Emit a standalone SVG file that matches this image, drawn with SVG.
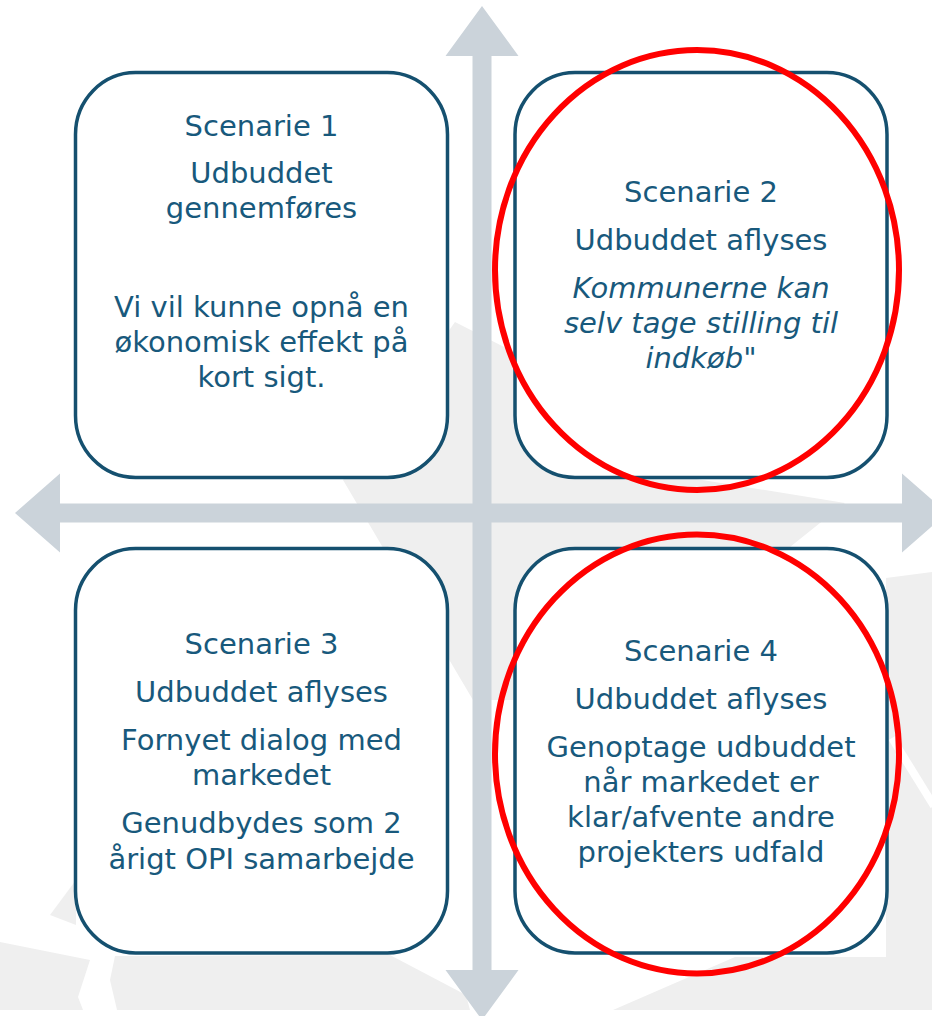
<svg xmlns="http://www.w3.org/2000/svg" width="932" height="1016" viewBox="0 0 932 1016">
<style>
.wm{fill:#EFEFEF;stroke:none}
.axis{fill:#CBD3DA;stroke:none}
.box{fill:#FFFFFF;stroke:#15506F;stroke-width:3.5}
.t{font-family:"DejaVu Sans","Verdana",sans-serif;font-size:29px;fill:#18597C;text-anchor:middle}
.i{font-style:italic}
.ring{fill:none;stroke:#FF0000;stroke-width:6}
</style>
<rect x="0" y="0" width="932" height="1016" fill="#FFFFFF"/>
<g id="watermark">
<polygon class="wm" points="455,322 520,355 690,478 845,503 790,547 540,560 520,700 473,700 343,480"/>
<polygon class="wm" points="50,915 76,880 76,925"/>
<polygon class="wm" points="0,942 90,960 78,997 83,1010 0,1010"/>
<polygon class="wm" points="115,956 390,955 466,995 470,1010 117,1010 110,980"/>
<polygon class="wm" points="886,578 932,572 932,1010 613,1010 735,957 886,957"/>
<line x1="892" y1="738" x2="934" y2="806" stroke="#FFFFFF" stroke-width="8"/>
</g>
<g id="connectors">
<path class="axis" d="M482,6 L518.5,56 L491.5,56 L491.5,970 L518.5,970 L482,1020 L445.5,970 L472.5,970 L472.5,56 L445.5,56 Z"/>
<path class="axis" d="M15,513 L60,473.5 L60,503.5 L902,503.5 L902,473.5 L947,513 L902,552.5 L902,522.5 L60,522.5 L60,552.5 Z"/>
</g>
<g id="scenarie1">
<rect class="box" x="75.5" y="72.5" width="372" height="405" rx="60" ry="62"/>
<text class="t" x="261.5" y="136">Scenarie 1</text>
<text class="t" x="261.5" y="183">Udbuddet</text>
<text class="t" x="261.5" y="218">gennemføres</text>
<text class="t" x="261.5" y="317">Vi vil kunne opnå en</text>
<text class="t" x="261.5" y="352">økonomisk effekt på</text>
<text class="t" x="261.5" y="387">kort sigt.</text>
</g>
<g id="scenarie2">
<rect class="box" x="515" y="72.5" width="372" height="405" rx="60" ry="62"/>
<text class="t" x="701" y="202">Scenarie 2</text>
<text class="t" x="701" y="250">Udbuddet aflyses</text>
<text class="t i" x="701" y="298">Kommunerne kan</text>
<text class="t i" x="701" y="333">selv tage stilling til</text>
<text class="t i" x="701" y="368">indkøb"</text>
</g>
<g id="scenarie3">
<rect class="box" x="75.5" y="548.5" width="372" height="404.5" rx="60" ry="62"/>
<text class="t" x="261.5" y="654">Scenarie 3</text>
<text class="t" x="261.5" y="702">Udbuddet aflyses</text>
<text class="t" x="261.5" y="750">Fornyet dialog med</text>
<text class="t" x="261.5" y="785">markedet</text>
<text class="t" x="261.5" y="833">Genudbydes som 2</text>
<text class="t" x="261.5" y="869">årigt OPI samarbejde</text>
</g>
<g id="scenarie4">
<rect class="box" x="515" y="548.5" width="372" height="404.5" rx="60" ry="62"/>
<text class="t" x="701" y="661">Scenarie 4</text>
<text class="t" x="701" y="708.5">Udbuddet aflyses</text>
<text class="t" x="701" y="757">Genoptage udbuddet</text>
<text class="t" x="701" y="792">når markedet er</text>
<text class="t" x="701" y="827">klar/afvente andre</text>
<text class="t" x="701" y="862">projekters udfald</text>
</g>
<g id="highlights">
<ellipse class="ring" cx="697" cy="270" rx="202" ry="220"/>
<ellipse class="ring" cx="697" cy="754" rx="202" ry="219.5"/>
</g>
</svg>
